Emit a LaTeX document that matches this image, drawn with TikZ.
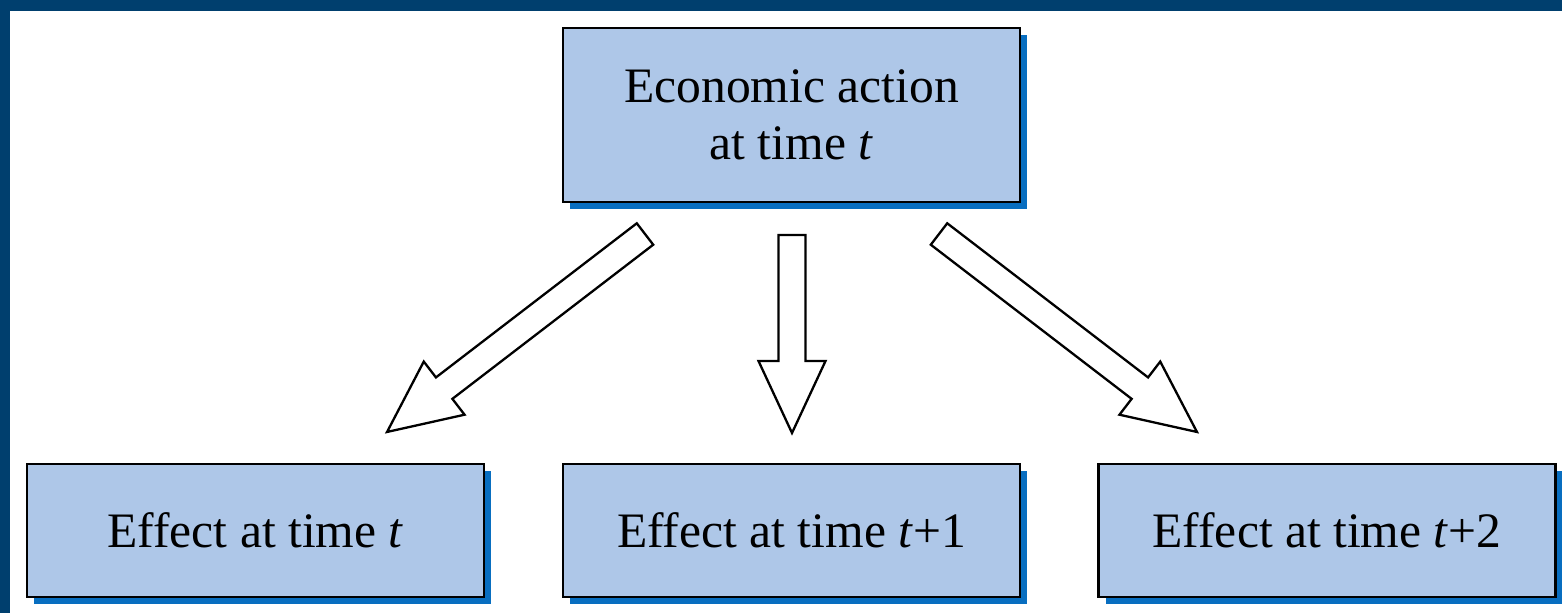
\documentclass[tikz,border=0pt]{standalone}
\usepackage{fontspec}
\setmainfont{Liberation Serif}
\usetikzlibrary{calc,shadows}
\definecolor{framec}{RGB}{0,63,110}
\definecolor{boxfill}{RGB}{174,199,232}
\definecolor{shadowc}{RGB}{8,110,192}
\tikzset{
  ebox/.style={draw=black, line width=2.6pt, fill=boxfill, rectangle,
    minimum width=457pt, inner sep=0pt, align=center,
    font=\fontsize{49.6}{57}\selectfont,
    drop shadow={shadow xshift=7pt, shadow yshift=-7pt, fill=shadowc, opacity=1}},
  blockarr/.style={draw=black, line width=2.3pt, fill=white, line join=miter}
}
\newcommand\blockarrow[2]{%
  \draw[blockarr] let \p1=(#1), \p2=(#2),
    \n1={atan2(\y2-\y1,\x2-\x1)}, \n2={veclen(\x2-\x1,\y2-\y1)} in
    [shift={(\p1)}, rotate=\n1]
    (0,13.5) -- ({\n2-72},13.5) -- ({\n2-72},33.5) -- (\n2,0)
    -- ({\n2-72},-33.5) -- ({\n2-72},-13.5) -- (0,-13.5) -- cycle;}
\begin{document}
\begin{tikzpicture}[x=1pt,y=-1pt]
  \fill[framec] (0,0) rectangle (1562,613);
  \fill[white] (10,11) rectangle (1562,613);
  \useasboundingbox (0,0) rectangle (1562,613);

  \node[ebox, minimum height=174pt] (top) at (791.5,115) {Economic action\\at time \textit{t}};
  \node[ebox, minimum height=133pt] (e0) at (255.5,530.5) {Effect at time \textit{t}};
  \node[ebox, minimum height=133pt] (e1) at (791.5,530.5) {Effect at time \textit{t}+1};
  \node[ebox, minimum height=133pt] (e2) at (1327,530.5) {Effect at time \textit{t}+2};

  \coordinate (s0) at (645,234);
  \coordinate (t0) at (387,432);
  \coordinate (s1) at (792,235);
  \coordinate (t1) at (792,433);
  \coordinate (s2) at (939,234);
  \coordinate (t2) at (1197,432);

  \blockarrow{s0}{t0}
  \blockarrow{s1}{t1}
  \blockarrow{s2}{t2}
\end{tikzpicture}
\end{document}
